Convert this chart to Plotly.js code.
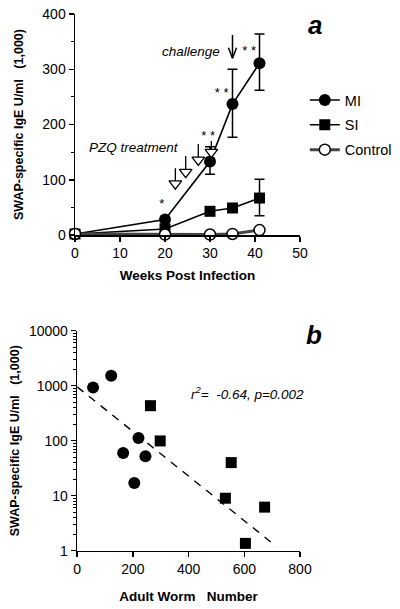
<!DOCTYPE html>
<html>
<head>
<meta charset="utf-8">
<script src="https://cdn.plot.ly/plotly-3.0.1.min.js"></script>
<style>
html,body{margin:0;padding:0;background:#fff;}
#chart{width:400px;height:609px;}
</style>
</head>
<body>
<div id="chart"></div>
<script>
// ---- Panel a data ----
var weeks = [0, 20, 30, 35, 41];
var miIgE = [2, 28, 133, 237, 311];
var miErrPlus = [null, null, 27, 63, 53];
var miErrMinus = [null, null, 23, 60, 49];
var siIgE = [2, 11, 43, 49, 67];
var siErrPlus = [null, null, null, null, 34];
var siErrMinus = [null, null, null, null, 32];
var ctrlIgE = [2, 1, 1, 2, 9];
var seriesNames = ['MI', 'SI', 'Control'];

// PZQ treatment arrows (weeks, top of stem, triangle centre)
var pzqWeeks = [22.3, 24.6, 27.4, 30.3];
var pzqTop = [121, 143, 165, 170];
var pzqHead = [93, 114, 136, 150];

// challenge arrow (week, top, tip)
var challengeWeek = 35;
var challengeTop = 362;
var challengeTip = 320;

// significance stars
var starX = [19.3, 29.6, 32.6, 38.7];
var starY = [54, 178, 256, 332];
var starText = ['*', '* *', '* *', '* *'];

// ---- Panel b data ----
var miWorms = [57, 122, 165, 220, 205, 245];
var miIgEb = [930, 1520, 60, 112, 17, 52];
var siWorms = [263, 298, 553, 532, 673, 604];
var siIgEb = [433, 99, 40, 9, 6.2, 1.36];
var fitX = [0, 715];
var fitY = [950, 1.2];

var FONT = 'Arial, "Liberation Sans", Helvetica, sans-serif';

var traces = [];
traces.push({
  x: weeks, y: miIgE, name: seriesNames[0], mode: 'lines+markers', xaxis: 'x', yaxis: 'y',
  line: {color: '#000', width: 1.6},
  marker: {symbol: 'circle', size: 12, color: '#000'},
  error_y: {type: 'data', array: miErrPlus, arrayminus: miErrMinus, symmetric: false, color: '#000', thickness: 1.5, width: 5},
  cliponaxis: false, legendgroup: 'g1'
});
traces.push({
  x: weeks, y: siIgE, name: seriesNames[1], mode: 'lines+markers', xaxis: 'x', yaxis: 'y',
  line: {color: '#000', width: 1.6},
  marker: {symbol: 'square', size: 11, color: '#000'},
  error_y: {type: 'data', array: siErrPlus, arrayminus: siErrMinus, symmetric: false, color: '#000', thickness: 1.5, width: 5},
  cliponaxis: false, legendgroup: 'g2'
});
traces.push({
  x: weeks, y: ctrlIgE, name: seriesNames[2], mode: 'lines+markers', xaxis: 'x', yaxis: 'y',
  line: {color: '#444', width: 3},
  marker: {symbol: 'circle', size: 11, color: '#fff', line: {color: '#000', width: 1.5}},
  cliponaxis: false, legendgroup: 'g3'
});
// PZQ arrows
for (var i = 0; i < pzqWeeks.length; i++) {
  traces.push({
    x: [pzqWeeks[i], pzqWeeks[i]], y: [pzqTop[i], pzqHead[i]], mode: 'lines', xaxis: 'x', yaxis: 'y',
    line: {color: '#000', width: 1.3}, showlegend: false, hoverinfo: 'skip'
  });
}
traces.push({
  x: pzqWeeks, y: pzqHead, mode: 'markers', xaxis: 'x', yaxis: 'y',
  marker: {symbol: 'triangle-down', size: 11, color: '#fff', line: {color: '#000', width: 1.3}},
  showlegend: false, hoverinfo: 'skip'
});
// challenge arrow (stem + V head)
traces.push({
  x: [challengeWeek, challengeWeek, null, challengeWeek - 0.9, challengeWeek, challengeWeek + 0.9],
  y: [challengeTop, challengeTip, null, challengeTip + 19, challengeTip, challengeTip + 19],
  mode: 'lines', xaxis: 'x', yaxis: 'y', line: {color: '#000', width: 1.5},
  showlegend: false, hoverinfo: 'skip', cliponaxis: false
});
traces.push({
  x: starX, y: starY, mode: 'text', text: starText, xaxis: 'x', yaxis: 'y',
  textfont: {family: FONT, size: 13, color: '#000'}, showlegend: false, hoverinfo: 'skip', cliponaxis: false
});

// panel b
traces.push({
  x: fitX, y: fitY, mode: 'lines', xaxis: 'x2', yaxis: 'y2',
  line: {color: '#000', width: 1.4, dash: '8px,7px'}, showlegend: false
});
traces.push({
  x: miWorms, y: miIgEb, mode: 'markers', xaxis: 'x2', yaxis: 'y2',
  marker: {symbol: 'circle', size: 12, color: '#000'}, showlegend: false, cliponaxis: false
});
traces.push({
  x: siWorms, y: siIgEb, mode: 'markers', xaxis: 'x2', yaxis: 'y2',
  marker: {symbol: 'square', size: 11, color: '#000'}, showlegend: false, cliponaxis: false
});

var ytitle = '<b>SWAP-specific IgE U/ml   (1,000)</b>';
var axCommon = {
  showgrid: false, zeroline: false, showline: true, linecolor: '#000', linewidth: 1.5,
  ticks: 'outside', tickcolor: '#000', tickwidth: 1.5, ticklen: 5,
  tickfont: {family: FONT, size: 14, color: '#000'}
};
function ax(o) { return Object.assign({}, axCommon, o); }

var layout = {
  width: 400, height: 609,
  margin: {l: 0, r: 0, t: 0, b: 0},
  paper_bgcolor: '#fff', plot_bgcolor: '#fff',
  font: {family: FONT, color: '#000'},
  showlegend: true,
  legend: {x: 0.762, y: 0.862, xanchor: 'left', yanchor: 'top', font: {family: FONT, size: 14.5, color: '#000'},
           bgcolor: 'rgba(0,0,0,0)', tracegroupgap: 3, traceorder: 'grouped'},
  xaxis: ax({domain: [0.1875, 0.75], range: [0, 50], dtick: 10, anchor: 'y',
    title: {text: '<b>Weeks Post Infection</b>', font: {family: FONT, size: 13.5, color: '#000'}, standoff: 10}}),
  yaxis: ax({domain: [0.614, 0.977], range: [0, 400], dtick: 100, anchor: 'x',
    minor: {dtick: 50, ticks: 'outside', ticklen: 3, tickcolor: '#000', tickwidth: 1},
    title: {text: ytitle, font: {family: FONT, size: 12.5, color: '#000'}, standoff: 16}}),
  xaxis2: ax({domain: [0.193, 0.75], range: [0, 800], dtick: 200, anchor: 'y2',
    title: {text: '<b>Adult Worm   Number</b>', font: {family: FONT, size: 13.5, color: '#000'}, standoff: 15}}),
  yaxis2: ax({domain: [0.0957, 0.457], type: 'log', range: [0, 4], dtick: 1, anchor: 'x2',
    tickvals: [1, 10, 100, 1000, 10000], ticktext: ['1', '10', '100', '1000', '10000'],
    minor: {dtick: 'D1', ticks: 'outside', ticklen: 3, tickcolor: '#000', tickwidth: 1},
    title: {text: ytitle, font: {family: FONT, size: 12.5, color: '#000'}, standoff: 6}}),
  annotations: [
    {xref: 'paper', yref: 'paper', x: 0.81, y: (609 - 25) / 609, xanchor: 'right', yanchor: 'middle',
     text: '<b><i>a</i></b>', showarrow: false, font: {family: FONT, size: 26, color: '#000'}},
    {xref: 'paper', yref: 'paper', x: 0.81, y: (609 - 335) / 609, xanchor: 'right', yanchor: 'middle',
     text: '<b><i>b</i></b>', showarrow: false, font: {family: FONT, size: 26, color: '#000'}},
    {xref: 'x', yref: 'y', x: 25.7, y: 332, text: '<i>challenge</i>', showarrow: false,
     font: {family: FONT, size: 13.5, color: '#000'}},
    {xref: 'x', yref: 'y', x: 13.2, y: 159, text: '<i>PZQ treatment</i>', showarrow: false,
     font: {family: FONT, size: 13.5, color: '#000'}},
    {xref: 'x2', yref: 'paper', x: 612, y: (609 - 393) / 609, xanchor: 'center', yanchor: 'middle',
     text: '<i>r<sup>2</sup>=  -0.64, p=0.002</i>', showarrow: false,
     font: {family: FONT, size: 13.5, color: '#000'}}
  ]
};

Plotly.newPlot('chart', traces, layout, {staticPlot: true, displayModeBar: false});
</script>
</body>
</html>
